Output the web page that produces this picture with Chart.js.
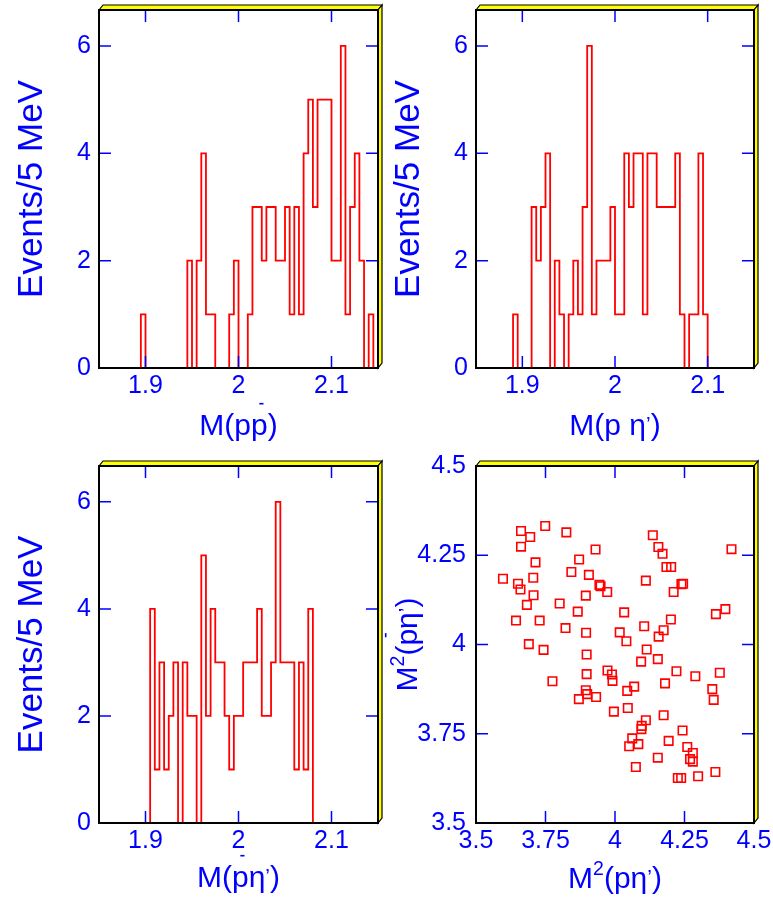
<!DOCTYPE html>
<html>
<head>
<meta charset="utf-8">
<script src="https://cdn.jsdelivr.net/npm/chart.js@4/dist/chart.umd.min.js"></script>
<style>
  html, body { margin: 0; padding: 0; background: #fff; }
  #wrap { position: relative; width: 773px; height: 902px; }
  #wrap canvas { position: absolute; left: 0; top: 0; }
</style>
</head>
<body>
<div id="wrap">
  <canvas id="cPP" width="773" height="902"></canvas>
  <canvas id="cPEta" width="773" height="902"></canvas>
  <canvas id="cPbarEta" width="773" height="902"></canvas>
  <canvas id="cDalitz" width="773" height="902"></canvas>
</div>
<script>
// histogram binning: 5 MeV bins from 1.85 to 2.15 GeV
const binLow = 1.85;
const binWidth = 0.005;

const countsPP = [0,0,0,0,0,0,0,0,0,1, 0,0,0,0,0,0,0,0,0,2, 0,2,4,1,1,0,0,0,1,2,
                  0,0,1,3,3,2,3,3,2,2, 3,1,3,1,4,5,3,5,5,5, 2,2,6,1,3,4,2,0,1,0];
const countsPEta = [0,0,0,0,0,0,0,0,1,0, 0,0,3,2,3,4,0,2,1,0, 1,2,1,3,6,1,2,2,2,3,
                    1,1,4,3,4,4,1,4,4,3, 3,3,3,4,1,0,1,1,4,1, 0,0,0,0,0,0,0,0,0,0];
const countsPbarEta = [0,0,0,0,0,0,0,0,0,0, 0,4,1,3,1,2,3,0,3,2, 2,0,5,2,4,3,3,2,1,2,
                       2,3,3,3,4,2,2,3,6,3, 3,3,1,3,1,4,0,0,0,0, 0,0,0,0,0,0,0,0,0,0];

const massTicks = [1.9, 2.0, 2.1];
const massTickLabels = ['1.9', '2', '2.1'];
const countTicks = [0, 2, 4, 6];
const countTickLabels = ['0', '2', '4', '6'];

// Dalitz plot: M^2(p eta') vs M^2(pbar eta')
const m2PEta = [3.749,3.662,3.695,3.825,3.662,3.930,4.136,4.156,4.171,4.419,
                3.714,3.871,3.843,3.906,3.597,3.706,3.651,3.660,3.944,3.948,
                3.972,3.895,3.707,3.683,3.801,4.185,4.202,4.111,4.239,4.245,
                4.211,3.866,4.033,3.644,3.729,3.822,3.896,4.017,4.041,4.105,
                4.201,4.175,4.157,4.363,4.397,3.690,3.743,3.898,4.114,4.094,
                4.154,3.775,3.898,3.973,3.989,3.991,4.044,4.069,3.895,3.900,
                3.870,3.932,4.180,4.221,4.289,4.377,4.350,4.355,3.996,4.046,
                4.175,4.111,4.096,4.095,4.243,4.062,4.051,4.084,4.193,4.260,
                4.280,4.270,4.280,4.154,4.075,4.226,4.238,4.299,4.361];
const m2PbarEta = [4.332,4.318,4.301,4.314,4.274,4.266,4.306,4.273,4.254,4.267,
                   4.230,4.238,4.203,4.195,4.184,4.187,4.170,4.154,4.167,4.163,
                   4.147,4.137,4.138,4.111,4.115,4.217,4.217,4.179,4.169,4.170,
                   4.147,4.092,4.090,4.067,4.067,4.046,4.033,4.034,4.009,4.051,
                   4.070,4.040,4.022,4.085,4.099,4.001,3.985,3.972,3.986,3.952,
                   3.959,3.897,3.917,3.927,3.916,3.898,3.870,3.882,3.872,3.861,
                   3.847,3.853,3.891,3.925,3.911,3.921,3.875,3.845,3.812,3.822,
                   3.802,3.788,3.772,3.763,3.759,3.737,3.715,3.721,3.730,3.713,
                   3.696,3.679,3.672,3.683,3.657,3.626,3.626,3.631,3.643];
const dalitzTicks = [3.5, 3.75, 4, 4.25, 4.5];
const dalitzTickLabels = ['3.5', '3.75', '4', '4.25', '4.5'];

const W = 773, H = 902;
const BLUE = '#0000ff';
const RED = '#ff0000';
const FONT = '"Liberation Sans", Arial, Helvetica, sans-serif';
const tickFont = { family: FONT, size: 25 };

// title pieces: t = text, bar = overbar, sup = superscript, small = small raised prime
const titlePP = [{t: 'M('}, {t: 'p'}, {t: 'p', bar: true}, {t: ')'}];
const titlePEta = [{t: 'M(p η'}, {t: '’', small: true}, {t: ')'}];
const titlePbarEta = [{t: 'M('}, {t: 'p', bar: true}, {t: 'η'}, {t: '’', small: true}, {t: ')'}];
const titleM2PEta = [{t: 'M'}, {t: '2', sup: true}, {t: '(pη'}, {t: '’', small: true}, {t: ')'}];
const titleM2PbarEta = [{t: 'M'}, {t: '2', sup: true}, {t: '('}, {t: 'p', bar: true}, {t: 'η'}, {t: '’', small: true}, {t: ')'}];
const titleEvents = [{t: 'Events/5 MeV'}];

function partFont(p, size) {
  if (p.sup) size *= 0.65;
  if (p.small) size *= 0.7;
  return size + 'px ' + FONT;
}

function drawParts(ctx, parts, cx, baseY, size) {
  const widths = parts.map(p => { ctx.font = partFont(p, size); return ctx.measureText(p.t).width; });
  let x = cx - widths.reduce((a, b) => a + b, 0) / 2;
  ctx.textAlign = 'left';
  ctx.textBaseline = 'alphabetic';
  parts.forEach((p, i) => {
    ctx.font = partFont(p, size);
    let y = baseY;
    if (p.sup) y -= size * 0.42;
    if (p.small) y -= size * 0.12;
    ctx.fillText(p.t, x, y);
    if (p.bar) {
      ctx.fillRect(x + widths[i] * 0.5, baseY - size * 1.07, widths[i] * 0.25, 1.6);
    }
    x += widths[i];
  });
}

// blue inward ticks, yellow 3D rim, black frame and axis titles
function panelDecor(xTicks, yTicks, xTitle, yTitle, xTitleY, yTitleX, yTitleSize) {
  return {
    id: 'panelDecor',
    afterDatasetsDraw(chart) {
      const {ctx, chartArea: a, scales} = chart;
      const tl = 12;
      ctx.save();
      ctx.strokeStyle = BLUE;
      ctx.lineWidth = 1.5;
      ctx.beginPath();
      xTicks.forEach(v => {
        const px = scales.x.getPixelForValue(v);
        ctx.moveTo(px, a.bottom); ctx.lineTo(px, a.bottom - tl);
        ctx.moveTo(px, a.top); ctx.lineTo(px, a.top + tl);
      });
      yTicks.forEach(v => {
        const py = scales.y.getPixelForValue(v);
        ctx.moveTo(a.left, py); ctx.lineTo(a.left + tl, py);
        ctx.moveTo(a.right, py); ctx.lineTo(a.right - tl, py);
      });
      ctx.stroke();

      const dx = 4, dy = -5;
      ctx.fillStyle = '#ffff00';
      ctx.strokeStyle = '#000';
      ctx.lineWidth = 1.2;
      ctx.beginPath();
      ctx.moveTo(a.left, a.top);
      ctx.lineTo(a.left + dx, a.top + dy);
      ctx.lineTo(a.right + dx, a.top + dy);
      ctx.lineTo(a.right, a.top);
      ctx.closePath();
      ctx.fill(); ctx.stroke();
      ctx.beginPath();
      ctx.moveTo(a.right, a.top);
      ctx.lineTo(a.right + dx, a.top + dy);
      ctx.lineTo(a.right + dx, a.bottom + dy);
      ctx.lineTo(a.right, a.bottom);
      ctx.closePath();
      ctx.fill(); ctx.stroke();
      ctx.lineWidth = 2;
      ctx.strokeRect(a.left, a.top, a.right - a.left, a.bottom - a.top);

      ctx.fillStyle = BLUE;
      drawParts(ctx, xTitle, (a.left + a.right) / 2, xTitleY, 30);
      ctx.translate(yTitleX, (a.top + a.bottom) / 2);
      ctx.rotate(-Math.PI / 2);
      drawParts(ctx, yTitle, 0, 0, yTitleSize);
      ctx.restore();
    }
  };
}

function axis(min, max, ticks, labels, horizontal, pad) {
  return {
    type: 'linear',
    min: min,
    max: max,
    grid: { display: false, drawTicks: false },
    border: { display: false },
    afterBuildTicks: s => { s.ticks = ticks.map(v => ({ value: v })); },
    afterFit: s => {
      if (horizontal) { s.height = 60; } else { s.width = 60; }
      s.paddingLeft = s.paddingRight = s.paddingTop = s.paddingBottom = 0;
    },
    ticks: {
      color: BLUE,
      font: tickFont,
      padding: pad,
      maxRotation: 0,
      autoSkip: false,
      callback: v => labels[ticks.indexOf(v)]
    }
  };
}

function panelOptions(box, xAxis, yAxis) {
  return {
    responsive: false,
    animation: false,
    events: [],
    layout: { padding: { left: box.l - 60, top: box.t, right: W - box.r, bottom: H - box.b - 60 } },
    plugins: { legend: { display: false }, tooltip: { enabled: false } },
    scales: { x: xAxis, y: yAxis }
  };
}

// a point at each bin's right edge carries the bin count;
// with stepped 'after' the line rises at the left edge and runs flat across the bin
function histPoints(counts) {
  const pts = [{ x: binLow, y: 0 }];
  counts.forEach((c, i) => pts.push({ x: binLow + (i + 1) * binWidth, y: c }));
  return pts;
}

function histChart(id, counts, box, xTitle, xTitleY, yTitleX) {
  new Chart(document.getElementById(id), {
    type: 'line',
    data: {
      datasets: [{
        data: histPoints(counts),
        stepped: 'after',
        borderColor: RED,
        borderWidth: 1.8,
        pointRadius: 0,
        fill: false
      }]
    },
    options: panelOptions(box,
      axis(1.85, 2.15, massTicks, massTickLabels, true, 3),
      axis(0, 6.67, countTicks, countTickLabels, false, 8)),
    plugins: [panelDecor(massTicks, countTicks, xTitle, titleEvents, xTitleY, yTitleX, 35)]
  });
}

histChart('cPP', countsPP, { l: 99, t: 10, r: 378, b: 368 }, titlePP, 435, 42);
histChart('cPEta', countsPEta, { l: 476, t: 10, r: 754, b: 368 }, titlePEta, 435, 419);
histChart('cPbarEta', countsPbarEta, { l: 99, t: 466, r: 378, b: 823 }, titlePbarEta, 887, 42);

new Chart(document.getElementById('cDalitz'), {
  type: 'scatter',
  data: {
    datasets: [{
      data: m2PEta.map((x, i) => ({ x: x, y: m2PbarEta[i] })),
      pointStyle: 'rect',
      pointRadius: 6,
      borderColor: RED,
      backgroundColor: 'rgba(0,0,0,0)',
      borderWidth: 1.6
    }]
  },
  options: panelOptions({ l: 476, t: 466, r: 754, b: 823 },
    axis(3.5, 4.5, dalitzTicks, dalitzTickLabels, true, 3),
    axis(3.5, 4.5, dalitzTicks, dalitzTickLabels, false, 10)),
  plugins: [panelDecor(dalitzTicks, dalitzTicks, titleM2PEta, titleM2PbarEta, 888, 417, 30)]
});
</script>
</body>
</html>
